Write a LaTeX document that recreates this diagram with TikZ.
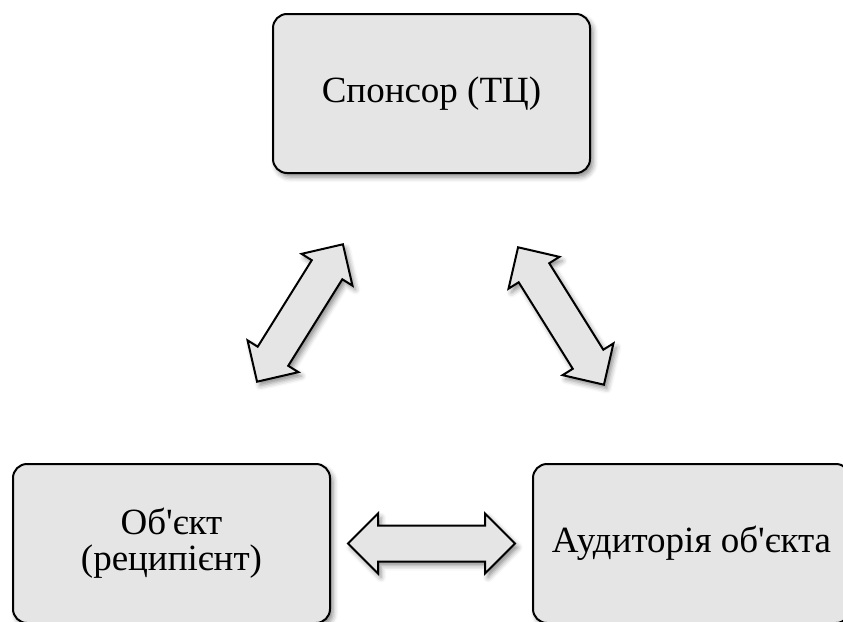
\documentclass[tikz,border=0pt]{standalone}
\usepackage{fontspec}
\setmainfont{Liberation Serif}[Ligatures=TeXOff]
\usetikzlibrary{shapes.arrows,shadows.blur,calc}
\definecolor{boxgray}{RGB}{229,229,229}
\tikzset{
  box/.style={draw=black, line width=2pt, fill=boxgray, rounded corners=14pt,
    minimum width=317pt, minimum height=159pt, align=center,
    font=\fontsize{37}{36}\selectfont,
    blur shadow={shadow xshift=3pt, shadow yshift=-4pt, shadow blur radius=5pt, shadow opacity=45}},
  blockarrow/.style={double arrow, draw=black, line width=2pt, fill=boxgray,
    inner xsep=0pt, inner ysep=17pt, double arrow head extend=12pt,
    double arrow tip angle=90, double arrow head indent=0pt,
    blur shadow={shadow xshift=3pt, shadow yshift=-4pt, shadow blur radius=5pt, shadow opacity=45}}
}
\begin{document}
\begin{tikzpicture}[x=1pt,y=-1pt]
\useasboundingbox (0,0) rectangle (843,621);
\node[box] (spon) at (431.5,93.5) {Спонсор (ТЦ)};
\node[box] (obj) at (171.5,543.5) {Об'єкт\\(реципієнт)};
\node[box] (aud) at (691.5,543.5) {Аудиторія об'єкта};
\node[blockarrow, minimum height=162pt, rotate=58] (a1) at (300,313) {};
\node[blockarrow, minimum height=162pt, rotate=-58] (a2) at (561,316) {};
\node[blockarrow, minimum height=167pt] (a3) at ($(obj.east)!0.5!(aud.west)$) {};
\end{tikzpicture}
\end{document}
